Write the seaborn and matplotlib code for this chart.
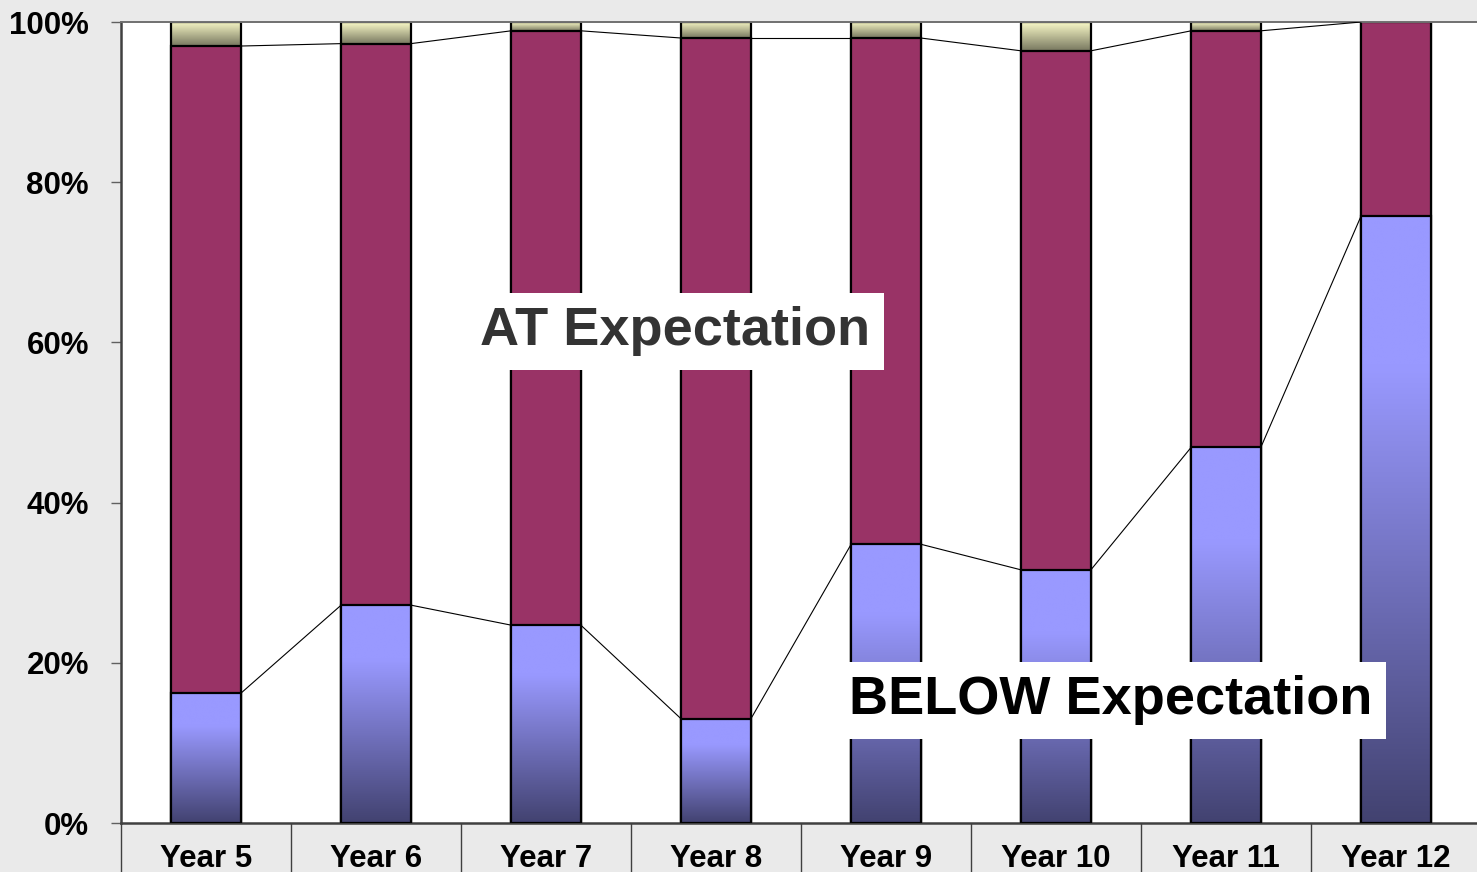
import numpy as np
import pandas as pd
import matplotlib
matplotlib.use("Agg")
import matplotlib.pyplot as plt
import seaborn as sns
from matplotlib import font_manager
from matplotlib.colors import LinearSegmentedColormap

# Share of students per year level (percent of each cohort)
years = ["Year 5", "Year 6", "Year 7", "Year 8", "Year 9", "Year 10", "Year 11", "Year 12"]
below = [16.2, 27.2, 24.7, 13.0, 34.8, 31.6, 46.9, 75.8]
at = [80.8, 70.1, 74.2, 85.0, 63.2, 64.8, 52.0, 24.2]
above = [3.0, 2.7, 1.1, 2.0, 2.0, 3.6, 1.1, 0.0]
y_ticks = [0, 20, 40, 60, 80, 100]
y_tick_labels = ["0%", "20%", "40%", "60%", "80%", "100%"]

sns.set_style("white")
installed = {f.name for f in font_manager.fontManager.ttflist}
narrow = "Liberation Sans Narrow" in installed
plt.rcParams["font.family"] = (["Liberation Sans Narrow"] if narrow else []) + ["Liberation Sans", "DejaVu Sans"]
plt.rcParams["font.weight"] = "bold"
tick_size = 24 if narrow else 22.5
big_size = 45 if narrow else 39

df = pd.DataFrame({"year": years, "below": below, "at": at, "above": above})
df["cum_below"] = df["below"]
df["cum_at"] = df["below"] + df["at"]
df["total"] = df["cum_at"] + df["above"]

fig = plt.figure(figsize=(14.77, 8.72), dpi=100, facecolor="#EAEAEA")
ax = fig.add_axes([121 / 1477, 49 / 872, 1360 / 1477, 801 / 872])
ax.set_facecolor("white")

bar_w = 0.41
edge_kw = dict(edgecolor="black", linewidth=1.6, saturation=1, width=bar_w)

# Overlaid cumulative bars: total (above), below+at, below
sns.barplot(data=df, x="year", y="total", color="#F5F5C0", ax=ax, zorder=1, **edge_kw)
top_bars = list(ax.containers[-1])
sns.barplot(data=df, x="year", y="cum_at", color="#993366", ax=ax, zorder=2, **edge_kw)
sns.barplot(data=df, x="year", y="cum_below", color="#9999FF", ax=ax, zorder=3, **edge_kw)
low_bars = list(ax.containers[-1])

yellow_cmap = LinearSegmentedColormap.from_list(
    "yel", [(0.0, "#77775F"), (1.0, "#FAFAC8")])
blue_cmap = LinearSegmentedColormap.from_list(
    "blu", [(0.0, "#424270"), (0.75, "#9999FF"), (1.0, "#9999FF")])
grad = np.linspace(0, 1, 256).reshape(-1, 1)


def shade(patch, lo, hi, cmap, z):
    """Fill a bar segment with a vertical gradient, keeping its outline on top."""
    x0 = patch.get_x()
    x1 = x0 + patch.get_width()
    if hi - lo > 1e-6:
        ax.imshow(grad, cmap=cmap, origin="lower", aspect="auto",
                  extent=(x0, x1, lo, hi), zorder=z, interpolation="bicubic")
    patch.set_facecolor("none")
    patch.set_zorder(z + 0.1)


for i, p in enumerate(top_bars):
    shade(p, df["cum_at"][i], df["total"][i], yellow_cmap, 1.2)
for i, p in enumerate(low_bars):
    shade(p, 0, df["cum_below"][i], blue_cmap, 3.2)

# Series lines joining the segment tops of neighbouring bars
for col in ["cum_below", "cum_at"]:
    vals = df[col].to_numpy()
    for i in range(len(vals) - 1):
        ax.plot([i + bar_w / 2, i + 1 - bar_w / 2], [vals[i], vals[i + 1]],
                color="black", lw=0.8, zorder=4)

ax.set_xlim(-0.5, 7.5)
ax.set_ylim(0, 100)
ax.set_xlabel("")
ax.set_ylabel("")
ax.set_yticks(y_ticks)
ax.set_yticklabels(y_tick_labels)
ax.set_xticks(range(len(years)))
ax.set_xticklabels(years)
ax.set_xticks(np.arange(-0.5, len(years), 1), minor=True)

ax.tick_params(axis="y", which="major", direction="out", length=7, width=1,
               color="#606060", pad=16, labelsize=tick_size, labelcolor="black", left=True)
ax.tick_params(axis="x", which="major", length=0, pad=15, labelsize=tick_size, labelcolor="black")
ax.tick_params(axis="x", which="minor", direction="out", length=40, width=1,
               color="#404040", bottom=True)

for side in ["left", "bottom"]:
    ax.spines[side].set_visible(True)
    ax.spines[side].set_color("#404040")
    ax.spines[side].set_linewidth(1.8)
ax.spines["top"].set_visible(True)
ax.spines["top"].set_color("#707070")
ax.spines["top"].set_linewidth(1.4)
ax.spines["right"].set_visible(False)

box = dict(boxstyle="square,pad=0.25", fc="white", ec="none")
ax.text(2.76, 61.4, "AT Expectation", fontsize=big_size, color="#333333",
        ha="center", va="center", bbox=box, zorder=6)
ax.text(5.32, 15.3, "BELOW Expectation", fontsize=big_size, color="black",
        ha="center", va="center", bbox=box, zorder=6)

fig.savefig("out.png", dpi=100, facecolor=fig.get_facecolor())
